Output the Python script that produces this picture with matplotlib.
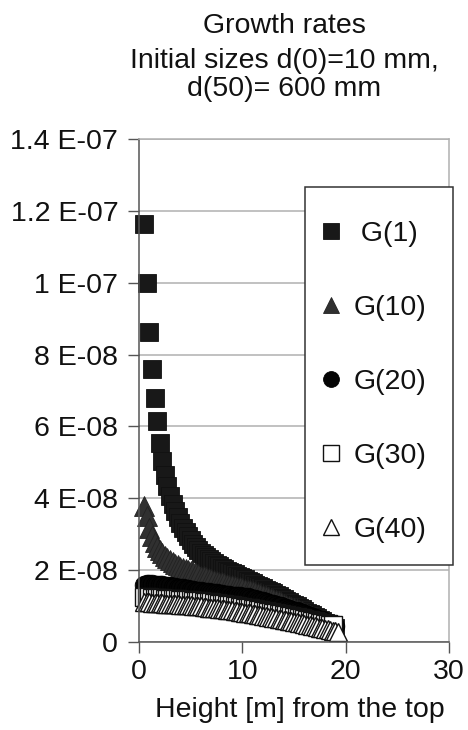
import numpy as np
import matplotlib
matplotlib.use("Agg")
import matplotlib.pyplot as plt
from matplotlib.patches import Rectangle

plt.rcParams['font.family'] = ['Liberation Sans', 'DejaVu Sans']

# ---- data (growth rates in units of 1e-8) ----
height = [0.5, 0.75, 1.0, 1.25, 1.5, 1.75, 2.0, 2.25, 2.5, 2.75, 3.0, 3.25, 3.5, 3.75,
          4.0, 4.25, 4.5, 4.75, 5.0, 5.25, 5.5, 5.75, 6.0, 6.25, 6.5, 6.75, 7.0, 7.25,
          7.5, 7.75, 8.0, 8.25, 8.5, 8.75, 9.0, 9.25, 9.5, 9.75, 10.0, 10.25, 10.5, 10.75,
          11.0, 11.25, 11.5, 11.75, 12.0, 12.25, 12.5, 12.75, 13.0, 13.25, 13.5, 13.75,
          14.0, 14.25, 14.5, 14.75, 15.0, 15.25, 15.5, 15.75, 16.0, 16.25, 16.5, 16.75,
          17.0, 17.25, 17.5, 17.75, 18.0, 18.25, 18.5, 18.75, 19.0, 19.25]

g1 = [11.63, 10.0, 8.64, 7.61, 6.80, 6.16, 5.55, 5.05, 4.65, 4.33, 4.07, 3.84, 3.64, 3.47,
      3.31, 3.17, 3.05, 2.94, 2.84, 2.74, 2.65, 2.57, 2.49, 2.42, 2.36, 2.30, 2.25, 2.20,
      2.15, 2.11, 2.07, 2.03, 1.99, 1.95, 1.92, 1.88, 1.85, 1.81, 1.78, 1.74, 1.71, 1.67,
      1.64, 1.60, 1.57, 1.53, 1.50, 1.46, 1.42, 1.39, 1.35, 1.31, 1.27, 1.23,
      1.19, 1.15, 1.11, 1.07, 1.03, 0.99, 0.95, 0.91, 0.86, 0.82, 0.78, 0.74,
      0.70, 0.66, 0.62, 0.58, 0.54, 0.50, 0.46, 0.42, 0.38]

g10 = [3.78, 3.50, 3.18, 2.95, 2.78, 2.65, 2.55, 2.47, 2.40, 2.34, 2.28, 2.23, 2.18, 2.14,
       2.10, 2.06, 2.03, 2.00, 1.97, 1.94, 1.91, 1.88, 1.85, 1.83, 1.80, 1.78, 1.75, 1.73,
       1.71, 1.68, 1.66, 1.64, 1.62, 1.60, 1.58, 1.56, 1.54, 1.52, 1.50, 1.48, 1.46, 1.44,
       1.41, 1.39, 1.36, 1.34, 1.31, 1.28, 1.25, 1.22, 1.19, 1.16, 1.13, 1.10,
       1.07, 1.04, 1.01, 0.98, 0.95, 0.91, 0.88, 0.85, 0.81, 0.78, 0.74, 0.71,
       0.67, 0.64, 0.60, 0.57, 0.53, 0.49, 0.46, 0.42, 0.39]

g20 = [1.60, 1.61, 1.61, 1.61, 1.60, 1.60, 1.59, 1.58, 1.57, 1.56, 1.55, 1.54, 1.52, 1.51,
       1.50, 1.49, 1.48, 1.47, 1.45, 1.44, 1.43, 1.42, 1.41, 1.40, 1.39, 1.38, 1.37, 1.36,
       1.35, 1.34, 1.33, 1.32, 1.31, 1.30, 1.29, 1.29, 1.28, 1.27, 1.26, 1.25, 1.24, 1.23,
       1.21, 1.19, 1.17, 1.15, 1.13, 1.11, 1.09, 1.07, 1.05, 1.03, 1.01, 0.99,
       0.96, 0.94, 0.92, 0.90, 0.87, 0.85, 0.83, 0.80, 0.78, 0.75, 0.73, 0.70,
       0.68, 0.65, 0.62, 0.60, 0.57, 0.54, 0.51, 0.48, 0.45]

g30 = [1.24, 1.24, 1.24, 1.23, 1.23, 1.22, 1.22, 1.22, 1.21, 1.21, 1.20, 1.20, 1.19, 1.19,
       1.18, 1.17, 1.17, 1.16, 1.16, 1.15, 1.14, 1.14, 1.13, 1.12, 1.11, 1.10, 1.10, 1.09,
       1.08, 1.07, 1.06, 1.05, 1.04, 1.03, 1.02, 1.01, 1.00, 0.98, 0.97, 0.96, 0.95, 0.94,
       0.92, 0.91, 0.90, 0.88, 0.87, 0.86, 0.84, 0.83, 0.82, 0.80, 0.79, 0.78,
       0.76, 0.75, 0.73, 0.72, 0.70, 0.69, 0.67, 0.66, 0.64, 0.62, 0.61, 0.59,
       0.58, 0.56, 0.54, 0.53, 0.51, 0.49, 0.48, 0.46]

g40 = [1.10, 1.10, 1.10, 1.09, 1.09, 1.08, 1.08, 1.08, 1.07, 1.07, 1.06, 1.06, 1.05, 1.05,
       1.04, 1.03, 1.03, 1.02, 1.02, 1.01, 1.00, 1.00, 0.99, 0.98, 0.97, 0.96, 0.96, 0.95,
       0.94, 0.93, 0.92, 0.91, 0.90, 0.89, 0.88, 0.87, 0.86, 0.84, 0.83, 0.82, 0.81, 0.80,
       0.78, 0.77, 0.76, 0.74, 0.73, 0.72, 0.70, 0.69, 0.68, 0.66, 0.65, 0.64,
       0.62, 0.61, 0.59, 0.58, 0.56, 0.55, 0.53, 0.52, 0.50, 0.48, 0.47, 0.45,
       0.44, 0.42, 0.40, 0.39, 0.37, 0.35, 0.34, 0.32, 0.31, 0.29]

series_labels = [" G(1)", "G(10)", "G(20)", "G(30)", "G(40)"]
ytick_values = [0, 2e-8, 4e-8, 6e-8, 8e-8, 1e-7, 1.2e-7, 1.4e-7]
ytick_labels = ["0", "2 E-08", "4 E-08", "6 E-08", "8 E-08", "1 E-07", "1.2 E-07", "1.4 E-07"]
xtick_values = [0, 10, 20, 30]
title_lines = ["Growth rates", "Initial sizes d(0)=10 mm,", "d(50)= 600 mm"]
xlabel = "Height [m] from the top"

UNIT = 1e-8
W, H = 468, 730
fig = plt.figure(figsize=(W / 100, H / 100), dpi=100)
ax = fig.add_axes([139 / W, 1 - 642 / H, (449 - 139) / W, (642 - 139) / H])

styles = [
    dict(marker='s', ms=13.2, mfc='#181818', mec='#101010', mew=0.6),
    dict(marker='^', ms=13.8, mfc='#303030', mec='#222222', mew=0.6),
    dict(marker='o', ms=13.4, mfc='#050505', mec='#000000', mew=0.6),
    dict(marker='s', ms=13.0, mfc='white', mec='#111111', mew=1.0),
    dict(marker='^', ms=13.0, mfc='white', mec='#111111', mew=1.0),
]
for y, lab, st in zip([g1, g10, g20, g30, g40], series_labels, styles):
    xs = np.array(height[:len(y)])
    ax.plot(xs, np.array(y) * UNIT, ls='none', label=lab, clip_on=False, **st)

ax.set_xlim(0, 30)
ax.set_ylim(0, 1.4e-7)
ax.set_yticks(ytick_values)
ax.set_yticklabels(ytick_labels)
ax.set_xticks(xtick_values)
ax.set_xticklabels([str(v) for v in xtick_values])

ax.grid(axis='y', color='#b0b0b0', lw=1.1)
ax.set_axisbelow(True)
for s in ['top', 'right']:
    ax.spines[s].set_color('#b0b0b0')
    ax.spines[s].set_linewidth(1.1)
for s in ['left', 'bottom']:
    ax.spines[s].set_color('#555555')
    ax.spines[s].set_linewidth(1.1)
ax.tick_params(axis='both', direction='out', length=8, width=1.0, color='#555555',
               labelsize=20.5, labelcolor='#111111')
ax.tick_params(axis='y', pad=7)
ax.tick_params(axis='x', pad=4)

# title lines (baselines in pixels)
for line, base in zip(title_lines, [33, 67.5, 96.5]):
    fig.text(284 / W, 1 - base / H, line, ha='center', va='baseline', fontsize=20.5,
             color='#111111')

fig.text(299.5 / W, 1 - 717 / H, xlabel, ha='center', va='baseline', fontsize=20.5,
         color='#111111')

# legend frame
frame = Rectangle((305 / W, 1 - 565 / H), (453 - 305) / W, (565 - 187) / H,
                  transform=fig.transFigure, facecolor='white', edgecolor='#333333',
                  lw=1.1, zorder=5)
fig.patches.append(frame)

leg = ax.legend(loc='upper left', bbox_to_anchor=(305 / W, 1 - 195 / H),
                bbox_transform=fig.transFigure, borderaxespad=0, fontsize=20.5,
                handlelength=0, handletextpad=0.8, borderpad=0.9, labelspacing=1.69,
                markerscale=0.85, frameon=False)
leg.set_zorder(10)
leg.remove()
fig.legends.append(leg)
leg.figure = fig
for t in leg.get_texts():
    t.set_color('#111111')

fig.savefig('out.png', dpi=100)
